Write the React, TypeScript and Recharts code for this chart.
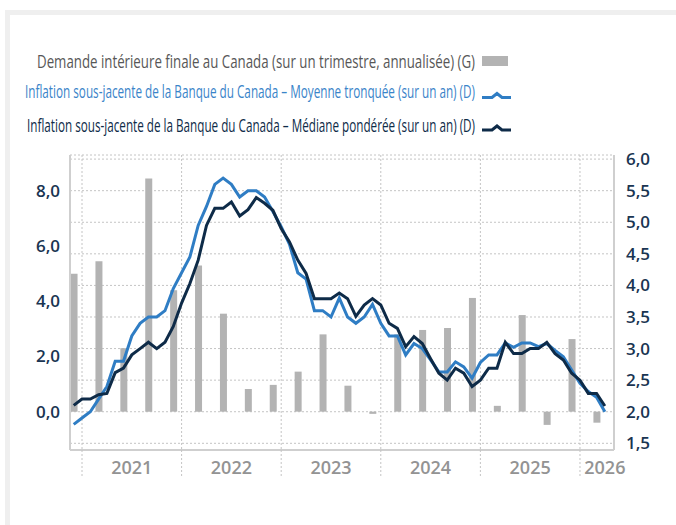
import React from 'react';
import { ComposedChart, Bar, Line, XAxis, YAxis, CartesianGrid } from 'recharts';

// Month index: 0 = January 2021; first observation is December 2020 (-1)
const firstMonth = -1;

// Trimmed mean (y/y, %) – right axis
const trimMean = [
  1.8, 1.9, 2.0, 2.2, 2.4, 2.8, 2.8, 3.2, 3.4, 3.5,
  3.5, 3.6, 3.95, 4.2, 4.45, 4.95, 5.25, 5.6, 5.7, 5.6,
  5.4, 5.5, 5.5, 5.4, 5.17, 4.93, 4.65, 4.2, 4.1, 3.6,
  3.6, 3.5, 3.8, 3.5, 3.4, 3.5, 3.7, 3.4, 3.2, 3.2,
  2.9, 3.08, 3.0, 2.82, 2.63, 2.63, 2.79, 2.71, 2.53, 2.78,
  2.9, 2.9, 3.09, 3.02, 3.09, 3.09, 3.03, 3.08, 2.97, 2.87,
  2.66, 2.45, 2.32, 2.23, 2.0,
];

// Weighted median (y/y, %) – right axis
const weightedMedian = [
  2.1, 2.2, 2.2, 2.27, 2.29, 2.62, 2.69, 2.9, 3.0, 3.1,
  3.0, 3.1, 3.35, 3.72, 4.03, 4.4, 4.95, 5.22, 5.22, 5.32,
  5.1, 5.2, 5.39, 5.3, 5.19, 4.9, 4.69, 4.4, 4.19, 3.79,
  3.79, 3.79, 3.88, 3.79, 3.51, 3.69, 3.79, 3.69, 3.4, 3.32,
  3.03, 3.19, 3.08, 2.84, 2.61, 2.5, 2.69, 2.61, 2.4, 2.5,
  2.69, 2.69, 3.1, 2.92, 2.92, 3.0, 3.0, 3.1, 2.92, 2.82,
  2.61, 2.5, 2.29, 2.29, 2.09,
];

// Final domestic demand (quarterly, annualized, %) – left axis, one every 3 months
const demand = [
  5.0, 5.45, 2.3, 8.45, 4.4, 5.3, 3.55, 0.82, 0.97, 1.45, 2.8,
  0.94, -0.08, 2.8, 2.96, 3.03, 4.12, 0.21, 3.5, -0.48, 2.63, -0.4,
];

const yearLabels = ['2021', '2022', '2023', '2024', '2025', '2026'];
const yearLabelPos = [6, 18, 30, 42, 54, 63];
const yearStarts = [0, 12, 24, 36, 48, 60];
const leftTicks = [0, 2, 4, 6, 8];
const rightTicks = [1.5, 2, 2.5, 3, 3.5, 4, 4.5, 5, 5.5, 6];
const xDomain = [-1.446, 64.1];
const leftDomain = [-1.39, 9.3];
const rightDomain = [1.394, 6.065];

const legendDemand = 'Demande intérieure finale au Canada (sur un trimestre, annualisée) (G)';
const legendTrim = 'Inflation sous-jacente de la Banque du Canada – Moyenne tronquée (sur un an) (D)';
const legendMedian = 'Inflation sous-jacente de la Banque du Canada – Médiane pondérée (sur un an) (D)';

const BLUE = '#2f7dc4';
const NAVY = '#0e2b48';
const GREY_BAR = '#b3b3b3';

const data = trimMean.map((v, i) => {
  const m = firstMonth + i;
  const q = i % 3 === 0 ? demand[i / 3] : null;
  return { m, trim: v, median: weightedMedian[i], demand: q };
});

const xTicks = [...yearStarts, ...yearLabelPos].sort((a, b) => a - b);

const fmt = (v: number) => v.toFixed(1).replace('.', ',');

const tickStyle = { fill: '#1a3552', fontSize: 17, fontWeight: 600, fontFamily: 'Open Sans' };

const YearTick = (props: any) => {
  const { x, y, payload } = props;
  const li = yearLabelPos.indexOf(payload.value);
  if (li >= 0) {
    return (
      <text x={x} y={y + 24} textAnchor="middle" fill="#939393" fontSize={18} fontWeight={600} fontFamily="Open Sans">
        {yearLabels[li]}
      </text>
    );
  }
  return <line x1={x} x2={x} y1={y} y2={y + 28} stroke="#c4c4c4" strokeDasharray="2 2" />;
};

const SX = 0.7;
const LegendText = ({ right, baseline, width, color, children }: any) => (
  <g transform={`translate(${right},${baseline}) scale(${SX},1)`}>
    <text x={0} y={0} textAnchor="end" textLength={width / SX} lengthAdjust="spacingAndGlyphs"
      fill={color} fontSize={18} fontWeight={500} fontFamily="Open Sans">
      {children}
    </text>
  </g>
);

export default function App() {
  return (
    <div style={{ position: 'absolute', left: 0, top: 0, width: 676, height: 525, overflow: 'hidden', background: '#fff' }}>
      <div
        style={{
          position: 'absolute', left: 5, top: 10, width: 720, height: 600,
          borderTop: '5px solid #efefef', borderLeft: '5px solid #efefef', boxSizing: 'border-box',
        }}
      />
      <div style={{ position: 'absolute', left: 0, top: 0 }}>
        <ComposedChart width={676} height={525} data={data} margin={{ top: 155, right: 0, bottom: 0, left: 0 }}>
          <CartesianGrid yAxisId="right" verticalValues={yearStarts} stroke="#c4c4c4" strokeDasharray="2 2" />
          <XAxis
            dataKey="m" type="number" domain={xDomain} allowDataOverflow ticks={xTicks} interval={0}
            height={75} tickSize={0} tickMargin={0} tickLine={false}
            axisLine={{ stroke: '#cfcfcf', strokeWidth: 2 }} tick={<YearTick />}
          />
          <XAxis
            xAxisId="top" orientation="top" type="number" domain={xDomain} allowDataOverflow
            height={0} tick={false} tickLine={false} axisLine={{ stroke: '#cfcfcf', strokeWidth: 2 }}
          />
          <YAxis
            yAxisId="left" orientation="left" type="number" domain={leftDomain} allowDataOverflow ticks={leftTicks}
            width={70} tickSize={0} tickMargin={10} tickLine={false} tickFormatter={fmt}
            axisLine={{ stroke: '#cfcfcf', strokeWidth: 2 }} tick={tickStyle} interval={0}
          />
          <YAxis
            yAxisId="right" orientation="right" type="number" domain={rightDomain} allowDataOverflow ticks={rightTicks}
            width={62} tickSize={0} tickMargin={12} tickLine={false} tickFormatter={fmt}
            axisLine={{ stroke: '#cfcfcf', strokeWidth: 2 }} tick={tickStyle} interval={0}
          />
          <Bar yAxisId="left" dataKey="demand" fill={GREY_BAR} barSize={7} isAnimationActive={false} />
          <Line yAxisId="right" dataKey="trim" stroke={BLUE} strokeWidth={3} dot={false} type="linear" isAnimationActive={false} />
          <Line yAxisId="right" dataKey="median" stroke={NAVY} strokeWidth={3} dot={false} type="linear" isAnimationActive={false} />
        </ComposedChart>
      </div>
      <svg width={676} height={150} style={{ position: 'absolute', left: 0, top: 0, pointerEvents: 'none' }}>
        <LegendText right={475} baseline={68} width={438} color="#575757">{legendDemand}</LegendText>
        <rect x={482} y={56} width={26} height={10} fill={GREY_BAR} />
        <LegendText right={475} baseline={98} width={450} color="#3a84c9">{legendTrim}</LegendText>
        <polyline points="482,97.5 492,97.5 497,93.5 502,97.5 511,97.5" fill="none" stroke={BLUE} strokeWidth={3} />
        <LegendText right={475} baseline={132} width={448} color={NAVY}>{legendMedian}</LegendText>
        <polyline points="482,130 492,130 497,126 502,130 511,130" fill="none" stroke={NAVY} strokeWidth={3} />
      </svg>
    </div>
  );
}
